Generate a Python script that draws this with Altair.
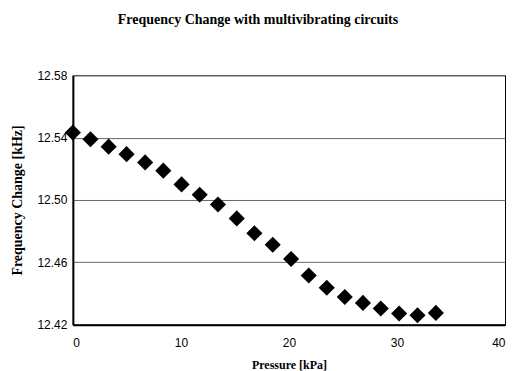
import altair as alt
import pandas as pd

pressure = [0.0, 1.63, 3.31, 4.97, 6.69, 8.37, 10.06, 11.74, 13.43, 15.17, 16.8,
            18.5, 20.2, 21.83, 23.5, 25.17, 26.85, 28.5, 30.2, 31.9, 33.6]
freq = [12.5432, 12.5389, 12.5342, 12.5294, 12.5241, 12.5188, 12.5100, 12.5034,
        12.4971, 12.4882, 12.4787, 12.4713, 12.4622, 12.4516, 12.4437, 12.4378,
        12.4340, 12.4304, 12.4272, 12.4261, 12.4276]
x_ticks = [0, 10, 20, 30, 40]
y_ticks = [12.42, 12.46, 12.50, 12.54, 12.58]

df = pd.DataFrame({"Pressure": pressure, "Freq": freq})

chart = alt.Chart(df).mark_point(
    shape="diamond", filled=True, color="black", size=260, opacity=1
).encode(
    x=alt.X("Pressure:Q", scale=alt.Scale(domain=[0, 40], nice=False),
            axis=alt.Axis(title="Pressure [kPa]", values=x_ticks, format="d",
                          grid=False, ticks=False, labelPadding=13,
                          titlePadding=11, titleFontSize=12)),
    y=alt.Y("Freq:Q", scale=alt.Scale(domain=[12.42, 12.58], nice=False, zero=False),
            axis=alt.Axis(title="Frequency Change [kHz]", values=y_ticks, format=".2f",
                          grid=True, ticks=False, labelPadding=6, titlePadding=12,
                          titleFontSize=14)),
).properties(
    width=433, height=250,
    autosize=alt.AutoSizeParams(type="none"),
    padding={"left": 65, "top": 67, "right": 4, "bottom": 46},
    title=alt.TitleParams("Frequency Change with multivibrating circuits",
                          font="Liberation Serif", fontSize=14, fontWeight="bold",
                          anchor="middle", offset=42, dx=-31, color="black"),
).configure_view(
    stroke="black", strokeWidth=1
).configure_axis(
    labelFont="Liberation Sans", labelFontSize=12, labelColor="black",
    titleFont="Liberation Serif", titleFontWeight="bold",
    titleColor="black", domainColor="black", domainWidth=2,
    gridColor="#666666", gridWidth=1
)

chart.save("out.html", embed_options={"renderer": "svg", "actions": False})
